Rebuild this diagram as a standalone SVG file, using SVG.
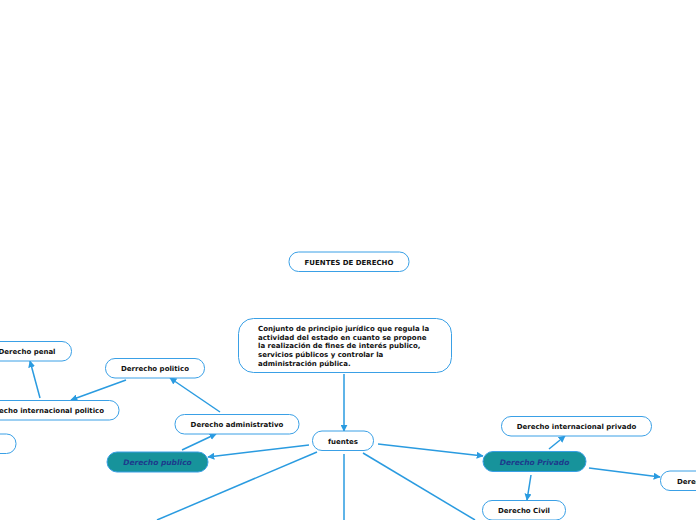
<svg xmlns="http://www.w3.org/2000/svg" width="696" height="520" viewBox="0 0 696 520">
<defs>
<marker id="ah" viewBox="0 0 10 10" refX="9" refY="5" markerWidth="7" markerHeight="7" markerUnits="userSpaceOnUse" orient="auto"><path d="M0,0 L10,5 L0,10 z" fill="#2a9be0"/></marker>
<style>
.n{fill:#fff;stroke:#3aa0e6;stroke-width:1}
.f{fill:#17939b;stroke:#3aa0e6;stroke-width:1}
.t{font-family:"DejaVu Sans",Verdana,sans-serif;font-weight:bold;font-size:7px;fill:#111;text-anchor:middle}
.ti{font-family:"DejaVu Sans",Verdana,sans-serif;font-weight:bold;font-style:italic;font-size:7.5px;fill:#1d3b8c;text-anchor:middle}
.tl{font-family:"DejaVu Sans",Verdana,sans-serif;font-weight:bold;font-size:7px;fill:#111}
.c{stroke:#2a9be0;stroke-width:1.5;fill:none}
</style>
</defs>
<rect width="696" height="520" fill="#fff"/>
<g id="connectors">
<line class="c" x1="344" y1="374" x2="344" y2="431" marker-end="url(#ah)"/>
<line class="c" x1="309" y1="445" x2="208" y2="457" marker-end="url(#ah)"/>
<line class="c" x1="182" y1="450" x2="216" y2="434" marker-end="url(#ah)"/>
<line class="c" x1="220" y1="412" x2="170" y2="378" marker-end="url(#ah)"/>
<line class="c" x1="126" y1="380" x2="71" y2="400" marker-end="url(#ah)"/>
<line class="c" x1="40" y1="398" x2="30" y2="361" marker-end="url(#ah)"/>
<line class="c" x1="378" y1="444" x2="483" y2="456" marker-end="url(#ah)"/>
<line class="c" x1="549" y1="449" x2="565" y2="436" marker-end="url(#ah)"/>
<line class="c" x1="589" y1="468" x2="660" y2="477" marker-end="url(#ah)"/>
<line class="c" x1="531" y1="475" x2="527" y2="500" marker-end="url(#ah)"/>
<line class="c" x1="317" y1="452" x2="157" y2="520"/>
<line class="c" x1="344" y1="454" x2="344" y2="520"/>
<line class="c" x1="363" y1="453" x2="475" y2="520"/>
</g>
<g id="fuentes-de-derecho"><rect class="n" x="289" y="252" width="120" height="19.5" rx="9.5"/><text class="t" x="349" y="264.5">FUENTES DE DERECHO</text></g>
<g id="conjunto"><rect class="n" x="238.5" y="318.5" width="213" height="54" rx="15"/>
<text class="tl" x="258" y="331">Conjunto de principio jurídico que regula la</text>
<text class="tl" x="258" y="339.7">actividad del estado en cuanto se propone</text>
<text class="tl" x="258" y="348.4">la realización de fines de interés publico,</text>
<text class="tl" x="258" y="357.1">servicios públicos y controlar la</text>
<text class="tl" x="258" y="365.8">administración pública.</text></g>
<g id="fuentes"><rect class="n" x="312.5" y="431" width="61" height="19.5" rx="9.5"/><text class="t" x="343" y="443.5">fuentes</text></g>
<g id="derecho-publico"><rect class="f" x="107" y="452" width="101" height="20" rx="10"/><text class="ti" x="157.5" y="465">Derecho publico</text></g>
<g id="derecho-administrativo"><rect class="n" x="175" y="414.5" width="124" height="19.5" rx="9.5"/><text class="t" x="237" y="427">Derecho administrativo</text></g>
<g id="derrecho-politico"><rect class="n" x="105.5" y="358.5" width="99" height="19.5" rx="9.5"/><text class="t" x="155" y="371">Derrecho politico</text></g>
<g id="derecho-internacional-politico"><rect class="n" x="-30" y="400.5" width="149" height="19.5" rx="9.5"/><text class="t" x="44.5" y="413">Derecho internacional politico</text></g>
<g id="derecho-penal"><rect class="n" x="-30" y="341.5" width="101.5" height="19.5" rx="9.5"/><text class="t" x="27" y="354">Derecho penal</text></g>
<g id="left-node"><rect class="n" x="-40" y="434" width="56" height="19.5" rx="9.5"/></g>
<g id="derecho-privado"><rect class="f" x="483" y="451.5" width="103" height="20" rx="10"/><text class="ti" x="534.5" y="464.5">Derecho Privado</text></g>
<g id="derecho-internacional-privado"><rect class="n" x="501.5" y="416.5" width="150" height="19.5" rx="9.5"/><text class="t" x="576.5" y="429">Derecho internacional privado</text></g>
<g id="derecho-civil"><rect class="n" x="482.5" y="500.5" width="83" height="19.5" rx="9.5"/><text class="t" x="524" y="513">Derecho Civil</text></g>
<g id="derecho-right"><rect class="n" x="660.5" y="471" width="80" height="19.5" rx="9.5"/><text class="tl" x="677" y="483.5">Derecho</text></g>
</svg>
